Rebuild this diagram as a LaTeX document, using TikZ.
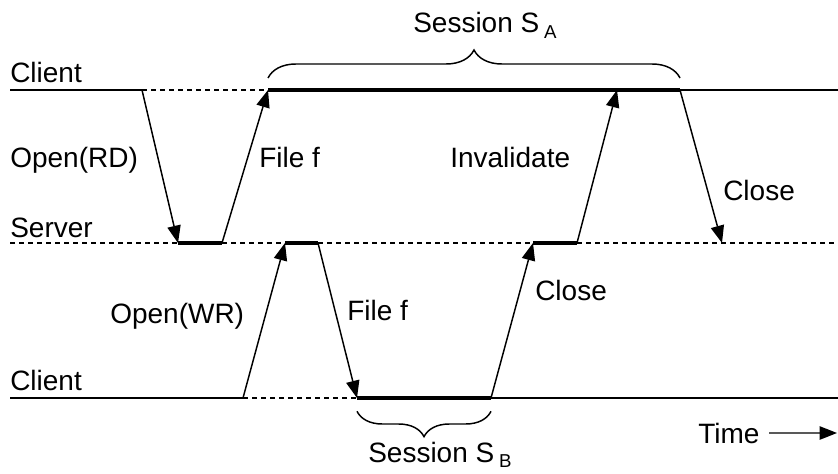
\documentclass[tikz,border=0pt]{standalone}
\usepackage{fontspec}
\setmainfont{Liberation Sans}
\usetikzlibrary{arrows.meta,decorations.pathreplacing}
\tikzset{
	line/.style={line width=1.5pt},
	busy/.style={line width=3pt},
	idle/.style={line width=1.1pt, dash pattern=on 3.75pt off 3pt},
	msg/.style={line width=1.1pt, -{Triangle[length=13pt,width=10pt]}},
	lbl/.style={anchor=base west, inner sep=0pt, font=\fontsize{21}{25}\selectfont},
	sess/.style={decorate, decoration={brace, amplitude=#1}, line width=1.1pt}
}
\newcommand{\subtxt}[1]{\,\raisebox{-0.4ex}{\fontsize{14}{16}\selectfont #1}}
\begin{document}
\begin{tikzpicture}[x=0.75pt,y=0.75pt,yscale=-1,xscale=1]
	\useasboundingbox (0,0) rectangle (838,474);
	% top client
	\coordinate (ca0) at (10,90);
	\coordinate (a1) at (142,90);
	\coordinate (a2) at (268,90);
	\coordinate (a4) at (617,90);
	\coordinate (a3) at (680,90);
	\coordinate (ca1) at (838,90);
	% server
	\coordinate (sv0) at (10,243);
	\coordinate (s1) at (178,243);
	\coordinate (s2) at (222,243);
	\coordinate (s3) at (285,243);
	\coordinate (s4) at (318,243);
	\coordinate (s5) at (533,243);
	\coordinate (s6) at (577,243);
	\coordinate (s7) at (722,243);
	\coordinate (sv1) at (838,243);
	% bottom client
	\coordinate (cb0) at (10,398);
	\coordinate (b1) at (243,398);
	\coordinate (b2) at (357,398);
	\coordinate (b3) at (491,398);
	\coordinate (cb1) at (838,398);

	\draw [line] (ca0) -- (a1);
	\draw [idle] (a1) -- (a2);
	\draw [busy] (a2) -- (a3);
	\draw [line] (a3) -- (ca1);

	\draw [idle] (sv0) -- (s1);
	\draw [busy] (s1) -- (s2);
	\draw [idle] (s2) -- (s3);
	\draw [busy] (s3) -- (s4);
	\draw [idle] (s4) -- (s5);
	\draw [busy] (s5) -- (s6);
	\draw [idle] (s6) -- (sv1);

	\draw [line] (cb0) -- (b1);
	\draw [idle] (b1) -- (b2);
	\draw [busy] (b2) -- (b3);
	\draw [line] (b3) -- (cb1);

	\draw [msg] (a1) -- (s1);
	\draw [msg] (s2) -- (a2);
	\draw [msg] (b1) -- (s3);
	\draw [msg] (s4) -- (b2);
	\draw [msg] (b3) -- (s5);
	\draw [msg] (s6) -- (a4);
	\draw [msg] (a3) -- (s7);

	\draw [sess=21pt] ([yshift=-9]a2) -- ([yshift=-9]a3);
	\draw [sess=19pt] ([yshift=10]b3) -- ([yshift=10]b2);

	\draw (10,83) node (clienta) [lbl] {Client};
	\draw (10,237) node (server) [lbl] {Server};
	\draw (10,390) node (clientb) [lbl] {Client};
	\draw (10,167) node (openrd) [lbl] {Open(RD)};
	\draw (259,167) node (filea) [lbl] {File f};
	\draw (450,167) node (inval) [lbl] {Invalidate};
	\draw (723,200) node (closea) [lbl] {Close};
	\draw (110,323) node (openwr) [lbl] {Open(WR)};
	\draw (347,320) node (fileb) [lbl] {File f};
	\draw (535,300) node (closeb) [lbl] {Close};
	\draw (413,33) node (sessa) [lbl] {Session S\subtxt{A}};
	\draw (368,462) node (sessb) [lbl] {Session S\subtxt{B}};
	\draw (698,443) node (time) [lbl] {Time};
	\coordinate (tend) at (837,433);
	\draw [msg] ([xshift=7]time.east) -- (tend);
\end{tikzpicture}
\end{document}
